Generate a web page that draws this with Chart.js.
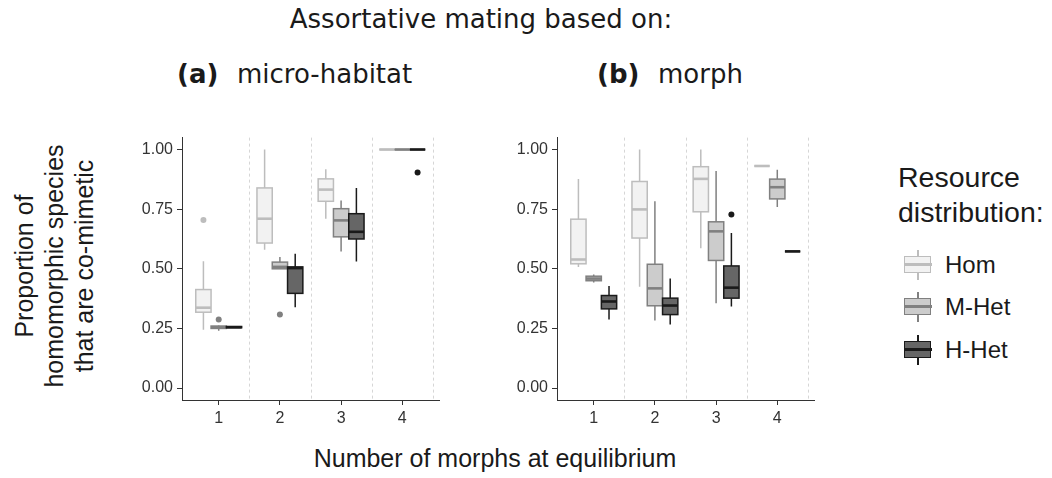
<!DOCTYPE html>
<html>
<head>
<meta charset="utf-8">
<script src="https://cdn.jsdelivr.net/npm/chart.js@4.4.0/dist/chart.umd.min.js"></script>
<style>
  body { margin: 0; width: 1052px; height: 478px; background: #fff; position: relative; overflow: hidden;
         font-family: "Liberation Sans", Arial, sans-serif; color: #1a1a1a; }
  .t { position: absolute; white-space: nowrap; line-height: 1; }
  .dv { font-family: "DejaVu Sans", sans-serif; font-size: 26px; }
  .panel { position: absolute; top: 124px; }
  .key { position: absolute; left: 904px; width: 28px; height: 30px; }
</style>
</head>
<body>
<div class="t dv" style="left:0; width:962px; text-align:center; top:6px;">Assortative mating based on:</div>
<div class="t dv" style="left:177px; top:61px;"><b>(a)</b></div>
<div class="t dv" style="left:237px; top:61px;">micro-habitat</div>
<div class="t dv" style="left:597px; top:61px;"><b>(b)</b></div>
<div class="t dv" style="left:658px; top:61px;">morph</div>

<div class="t" id="ytitle" style="left:-96px; top:221px; width:300px; height:90px; font-size:25px; line-height:30px; text-align:center; transform:rotate(-90deg);">Proportion of<br>homomorphic species<br>that are co-mimetic</div>
<div class="t" style="left:0; width:990px; text-align:center; top:446px; font-size:25px;">Number of morphs at equilibrium</div>

<div class="panel" style="left:120px;"><canvas id="habitat" width="322" height="312"></canvas></div>
<div class="panel" style="left:495px;"><canvas id="morph" width="322" height="312"></canvas></div>

<div class="t" style="left:898px; top:163px; font-size:28.5px;">Resource</div>
<div class="t" style="left:898px; top:198px; font-size:28.5px;">distribution:</div>
<div id="legend"></div>

<script>
'use strict';

const categories = [1, 2, 3, 4];
const seriesNames = ['Hom', 'M-Het', 'H-Het'];
const yTicks = [0, 0.25, 0.5, 0.75, 1];
const separators = [1.5, 2.5, 3.5, 4.5];

// [min, q1, median, q3, max] per number of morphs
const habitatHom  = [[0.245, 0.318, 0.337, 0.413, 0.532], [0.58, 0.608, 0.71, 0.839, 1.0], [0.71, 0.783, 0.832, 0.877, 0.917], [1, 1, 1, 1, 1]];
const habitatMHet = [[0.24, 0.25, 0.255, 0.26, 0.262], [0.5, 0.5, 0.508, 0.528, 0.549], [0.572, 0.634, 0.703, 0.752, 0.786], [1, 1, 1, 1, 1]];
const habitatHHet = [[0.252, 0.253, 0.255, 0.258, 0.26], [0.339, 0.397, 0.503, 0.508, 0.563], [0.531, 0.625, 0.655, 0.731, 0.839], [1, 1, 1, 1, 1]];
const morphHom  = [[0.508, 0.521, 0.539, 0.708, 0.876], [0.425, 0.629, 0.749, 0.866, 1.0], [0.586, 0.739, 0.877, 0.928, 1.0], [0.931, 0.931, 0.931, 0.931, 0.931]];
const morphMHet = [[0.443, 0.45, 0.459, 0.469, 0.476], [0.283, 0.345, 0.418, 0.519, 0.783], [0.356, 0.535, 0.657, 0.697, 0.91], [0.759, 0.793, 0.842, 0.876, 0.915]];
const morphHHet = [[0.287, 0.332, 0.363, 0.388, 0.428], [0.266, 0.308, 0.346, 0.377, 0.459], [0.342, 0.377, 0.421, 0.512, 0.65], [0.573, 0.573, 0.573, 0.573, 0.573]];

// outliers: [number of morphs, value]
const habitatHomOut  = [[1, 0.705]];
const habitatMHetOut = [[1, 0.287], [2, 0.308]];
const habitatHHetOut = [[4, 0.904]];
const morphHomOut  = [];
const morphMHetOut = [];
const morphHHetOut = [[3, 0.728]];

const offsets = [-0.25, 0, 0.25];
const boxWidth = 0.25;
const fills   = ['#f2f2f2', '#cccccc', '#666666'];
const strokes = ['#bdbdbd', '#808080', '#1a1a1a'];

const boxPlugin = {
  id: 'boxes',
  beforeDatasetsDraw(chart) {
    const {ctx, chartArea, scales: {x, y}} = chart;
    ctx.save();
    // dashed lines between groups
    ctx.strokeStyle = '#d6d6d6';
    ctx.lineWidth = 1;
    ctx.setLineDash([3, 3]);
    separators.forEach(v => {
      const px = Math.round(x.getPixelForValue(v)) + 0.5;
      ctx.beginPath();
      ctx.moveTo(px, chartArea.top);
      ctx.lineTo(px, chartArea.bottom);
      ctx.stroke();
    });
    ctx.setLineDash([]);
    const half = (x.getPixelForValue(boxWidth) - x.getPixelForValue(0)) / 2;
    chart.data.datasets.forEach((ds, s) => {
      ds.boxStats.forEach((st, i) => {
        const [lo, q1, med, q3, hi] = st.map(v => y.getPixelForValue(v));
        const cx = x.getPixelForValue(categories[i] + offsets[s]);
        ctx.strokeStyle = strokes[s];
        ctx.lineWidth = 1.5;
        ctx.beginPath();
        ctx.moveTo(cx, hi); ctx.lineTo(cx, q3);
        ctx.moveTo(cx, q1); ctx.lineTo(cx, lo);
        ctx.stroke();
        ctx.fillStyle = fills[s];
        ctx.fillRect(cx - half, q3, half * 2, q1 - q3);
        ctx.strokeRect(cx - half, q3, half * 2, q1 - q3);
        ctx.lineWidth = 2.6;
        ctx.beginPath();
        ctx.moveTo(cx - half, med); ctx.lineTo(cx + half, med);
        ctx.stroke();
      });
    });
    ctx.restore();
  }
};

const tickFont = {family: 'Liberation Sans', size: 16};

function makePanel(id, stats, outliers) {
  const datasets = seriesNames.map((name, s) => ({
    label: name,
    boxStats: stats[s],
    data: outliers[s].map(([c, v]) => ({x: c + offsets[s], y: v})),
    backgroundColor: strokes[s],
    borderColor: strokes[s],
    borderWidth: 0,
    pointRadius: 3,
    pointHoverRadius: 3
  }));
  return new Chart(document.getElementById(id), {
    type: 'scatter',
    data: {datasets: datasets},
    options: {
      responsive: false,
      animation: false,
      layout: {padding: {top: 10, right: 0, bottom: 0, left: 0}},
      plugins: {legend: {display: false}, tooltip: {enabled: false}},
      scales: {
        x: {
          type: 'linear', min: 0.4, max: 4.6,
          afterBuildTicks: (axis) => { axis.ticks = categories.map(v => ({value: v})); },
          afterFit: (axis) => { axis.height = 36; },
          ticks: {color: '#333', font: tickFont, padding: 4, maxRotation: 0, callback: (v) => String(v)},
          grid: {drawOnChartArea: false, tickLength: 5, tickColor: '#333', color: '#333'},
          border: {color: '#333', width: 1}
        },
        y: {
          min: -0.05, max: 1.05,
          afterBuildTicks: (axis) => { axis.ticks = yTicks.map(v => ({value: v})); },
          afterFit: (axis) => { axis.width = 62; },
          ticks: {color: '#333', font: tickFont, padding: 4, callback: (v) => v.toFixed(2)},
          grid: {drawOnChartArea: false, tickLength: 5, tickColor: '#333', color: '#333'},
          border: {color: '#333', width: 1}
        }
      }
    },
    plugins: [boxPlugin]
  });
}

makePanel('habitat', [habitatHom, habitatMHet, habitatHHet], [habitatHomOut, habitatMHetOut, habitatHHetOut]);
makePanel('morph', [morphHom, morphMHet, morphHHet], [morphHomOut, morphMHetOut, morphHHetOut]);

// legend keys
const legendY = [265, 307, 350];
const legend = document.getElementById('legend');
seriesNames.forEach((name, s) => {
  const key = document.createElement('div');
  key.className = 'key';
  key.style.top = (legendY[s] - 15) + 'px';
  key.innerHTML =
    `<div style="position:absolute;left:13px;top:0;width:2px;height:30px;background:${strokes[s]}"></div>` +
    `<div style="position:absolute;left:0;top:6px;width:25px;height:15px;background:${fills[s]};border:1.5px solid ${strokes[s]}"></div>` +
    `<div style="position:absolute;left:0;top:13px;width:28px;height:3px;background:${strokes[s]}"></div>`;
  legend.appendChild(key);
  const lab = document.createElement('div');
  lab.className = 't';
  lab.style.cssText = `left:945px; top:${legendY[s] - 12}px; font-size:24px;`;
  lab.textContent = name;
  legend.appendChild(lab);
});
</script>
</body>
</html>
